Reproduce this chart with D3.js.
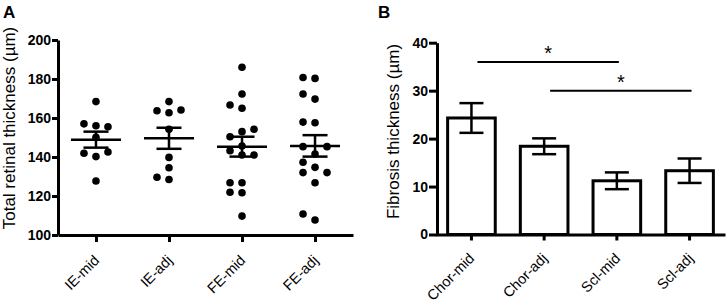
<!DOCTYPE html>
<html>
<head>
<meta charset="utf-8">
<script src="https://cdn.jsdelivr.net/npm/d3@7"></script>
<style>
  body { margin: 0; background: #fff; }
  .container { position: relative; width: 726px; height: 308px; }
  svg text { font-family: Arial, "Liberation Sans", sans-serif; fill: #000; }
  .axis path, .axis line { stroke: #000; stroke-width: 3px; }
  .axis text { font-size: 14px; font-weight: bold; }
  .cat {
    position: absolute;
    font-family: Arial, "Liberation Sans", sans-serif;
    font-size: 14.5px;
    line-height: 1;
    white-space: nowrap;
    color: #000;
    transform-origin: 0 0;
    transform: rotate(-45deg) translate(-100%, -0.9em);
  }
</style>
</head>
<body>
<div class="container"></div>
<script>
var WIDTH = 726;
var HEIGHT = 308;

// panel A: retinal thickness per group
var groupsA = ['IE-mid', 'IE-adj', 'FE-mid', 'FE-adj'];
var ieMid = [168.4, 156.0, 157.0, 155.5, 150.1, 140.2, 141.9, 142.6, 127.7];
var ieAdj = [168.4, 162.7, 163.7, 164.1, 154.2, 139.8, 134.5, 128.5, 129.6];
var feMid = [186.0, 172.3, 165.0, 166.7, 153.0, 150.4, 154.2, 145.6, 143.2, 141.0, 141.0, 126.8, 126.8, 121.7, 121.9, 109.7];
var feAdj = [180.3, 180.8, 169.7, 172.3, 157.6, 157.9, 141.5, 145.3, 145.3, 137.3, 134.7, 132.0, 132.0, 126.8, 107.7, 110.8];
var meanA = [148.9, 149.6, 145.3, 145.7];
var semA = [4.1, 5.4, 5.1, 5.5];
var ticksA = [100, 120, 140, 160, 180, 200];

// panel B: fibrosis thickness
var groupsB = ['Chor-mid', 'Chor-adj', 'Scl-mid', 'Scl-adj'];
var meanB = [24.3, 18.4, 11.2, 13.3];
var semB = [3.1, 1.65, 1.75, 2.55];
var ticksB = [0, 10, 20, 30, 40];
var sigPairs = [['Chor-mid', 'Scl-mid', 36], ['Chor-adj', 'Scl-adj', 30]];

var translate = function (x, y) {
  return 'translate(' + x + ',' + y + ')';
};

// simple dodge: each point goes to the first lane (0, -1, +1, ...) with no overlap
var dodge = function (values, y, gap) {
  var placed = [];
  var order = [0, -1, 1, -2, 2];
  return values.map(function (v) {
    var py = y(v);
    var lane = 0;
    for (var i = 0; i < order.length; i++) {
      var hit = placed.some(function (p) { return p.lane === order[i] && Math.abs(p.py - py) < gap; });
      if (!hit) { lane = order[i]; break; }
    }
    var d = {v: v, py: py, lane: lane};
    placed.push(d);
    return d;
  });
};

var container = d3.select('.container');
var svg = container.append('svg')
    .attr('width', WIDTH)
    .attr('height', HEIGHT);

// slanted category labels as html, end of text sits just right of / below the tick
var catLabels = function (names, xPos, y0) {
  container.selectAll(null).data(names)
    .enter().append('div')
      .attr('class', 'cat')
      .style('left', function (d) { return (xPos(d) + 5) + 'px'; })
      .style('top', y0 + 'px')
      .text(function (d) { return d; });
};

// ---------- panel A ----------
var yA = d3.scaleLinear().domain([100, 200]).range([235, 40]);
var xA = d3.scalePoint().domain(groupsA).range([58, 353]).padding(0.52);

var gA = svg.append('g');

gA.append('g')
    .attr('class', 'axis')
    .attr('transform', translate(58, 0))
    .call(d3.axisLeft(yA).tickValues(ticksA).tickSize(6).tickPadding(1).tickSizeOuter(0));

var axA = gA.append('g')
    .attr('class', 'axis')
    .attr('transform', translate(0, 235))
    .call(d3.axisBottom(xA).tickSize(7).tickSizeOuter(0));
axA.selectAll('text').remove();

catLabels(groupsA, function (d) { return xA(d); }, 262);

var seriesA = [ieMid, ieAdj, feMid, feAdj];
seriesA.forEach(function (vals, i) {
  var cx = xA(groupsA[i]);
  var pts = dodge(vals, yA, 8.6);
  gA.selectAll('.dot' + i).data(pts)
    .enter().append('circle')
      .attr('class', 'dot' + i)
      .attr('cx', function (d) { return cx + d.lane * 12; })
      .attr('cy', function (d) { return d.py; })
      .attr('r', 3.8)
      .attr('fill', '#000');

  var m = meanA[i], s = semA[i];
  gA.append('line')
      .attr('x1', cx - 25).attr('x2', cx + 25)
      .attr('y1', yA(m)).attr('y2', yA(m))
      .attr('stroke', '#000').attr('stroke-width', 2.5);
  gA.append('line')
      .attr('x1', cx).attr('x2', cx)
      .attr('y1', yA(m - s)).attr('y2', yA(m + s))
      .attr('stroke', '#000').attr('stroke-width', 2.5);
  [m - s, m + s].forEach(function (v) {
    gA.append('line')
        .attr('x1', cx - 12.5).attr('x2', cx + 12.5)
        .attr('y1', yA(v)).attr('y2', yA(v))
        .attr('stroke', '#000').attr('stroke-width', 2.5);
  });
});

gA.append('text')
    .attr('transform', translate(15, 128) + ' rotate(-90)')
    .attr('text-anchor', 'middle')
    .style('font-size', '17px')
    .text('Total retinal thickness (µm)');

svg.append('text')
    .attr('x', 3).attr('y', 18)
    .style('font-size', '17px').style('font-weight', 'bold')
    .text('A');

// ---------- panel B ----------
var yB = d3.scaleLinear().domain([0, 40]).range([234.5, 42.7]);
var xB = d3.scaleBand().domain(groupsB).range([436, 725]).paddingInner(0.345).paddingOuter(0.16);

var gB = svg.append('g');

gB.selectAll('.bar').data(meanB)
  .enter().append('rect')
    .attr('class', 'bar')
    .attr('x', function (d, i) { return xB(groupsB[i]); })
    .attr('y', function (d) { return yB(d); })
    .attr('width', xB.bandwidth())
    .attr('height', function (d) { return yB(0) - yB(d); })
    .attr('fill', '#fff')
    .attr('stroke', '#000')
    .attr('stroke-width', 3);

meanB.forEach(function (m, i) {
  var cx = xB(groupsB[i]) + xB.bandwidth() / 2;
  var s = semB[i];
  gB.append('line')
      .attr('x1', cx).attr('x2', cx)
      .attr('y1', yB(m - s)).attr('y2', yB(m + s))
      .attr('stroke', '#000').attr('stroke-width', 2.5);
  [m - s, m + s].forEach(function (v) {
    gB.append('line')
        .attr('x1', cx - 12).attr('x2', cx + 12)
        .attr('y1', yB(v)).attr('y2', yB(v))
        .attr('stroke', '#000').attr('stroke-width', 2.5);
  });
});

gB.append('g')
    .attr('class', 'axis')
    .attr('transform', translate(437, 0))
    .call(d3.axisLeft(yB).tickValues(ticksB).tickSize(8).tickPadding(1).tickSizeOuter(0));

var axB = gB.append('g')
    .attr('class', 'axis')
    .attr('transform', translate(0, 234.5))
    .call(d3.axisBottom(xB).tickSize(6).tickSizeOuter(0));
axB.selectAll('text').remove();

catLabels(groupsB, function (d) { return xB(d) + xB.bandwidth() / 2; }, 259.5);

sigPairs.forEach(function (p) {
  var x1 = xB(p[0]) + xB.bandwidth() / 2 + 6;
  var x2 = xB(p[1]) + xB.bandwidth() / 2 + 2;
  gB.append('line')
      .attr('x1', x1).attr('x2', x2)
      .attr('y1', yB(p[2])).attr('y2', yB(p[2]))
      .attr('stroke', '#000').attr('stroke-width', 2);
  gB.append('text')
      .attr('x', (x1 + x2) / 2)
      .attr('y', yB(p[2]) - 2)
      .attr('text-anchor', 'middle')
      .style('font-size', '20px')
      .text('*');
});

gB.append('text')
    .attr('transform', translate(399, 131.5) + ' rotate(-90)')
    .attr('text-anchor', 'middle')
    .style('font-size', '17px')
    .text('Fibrosis thickness (µm)');

svg.append('text')
    .attr('x', 378).attr('y', 18)
    .style('font-size', '17px').style('font-weight', 'bold')
    .text('B');
</script>
</body>
</html>
